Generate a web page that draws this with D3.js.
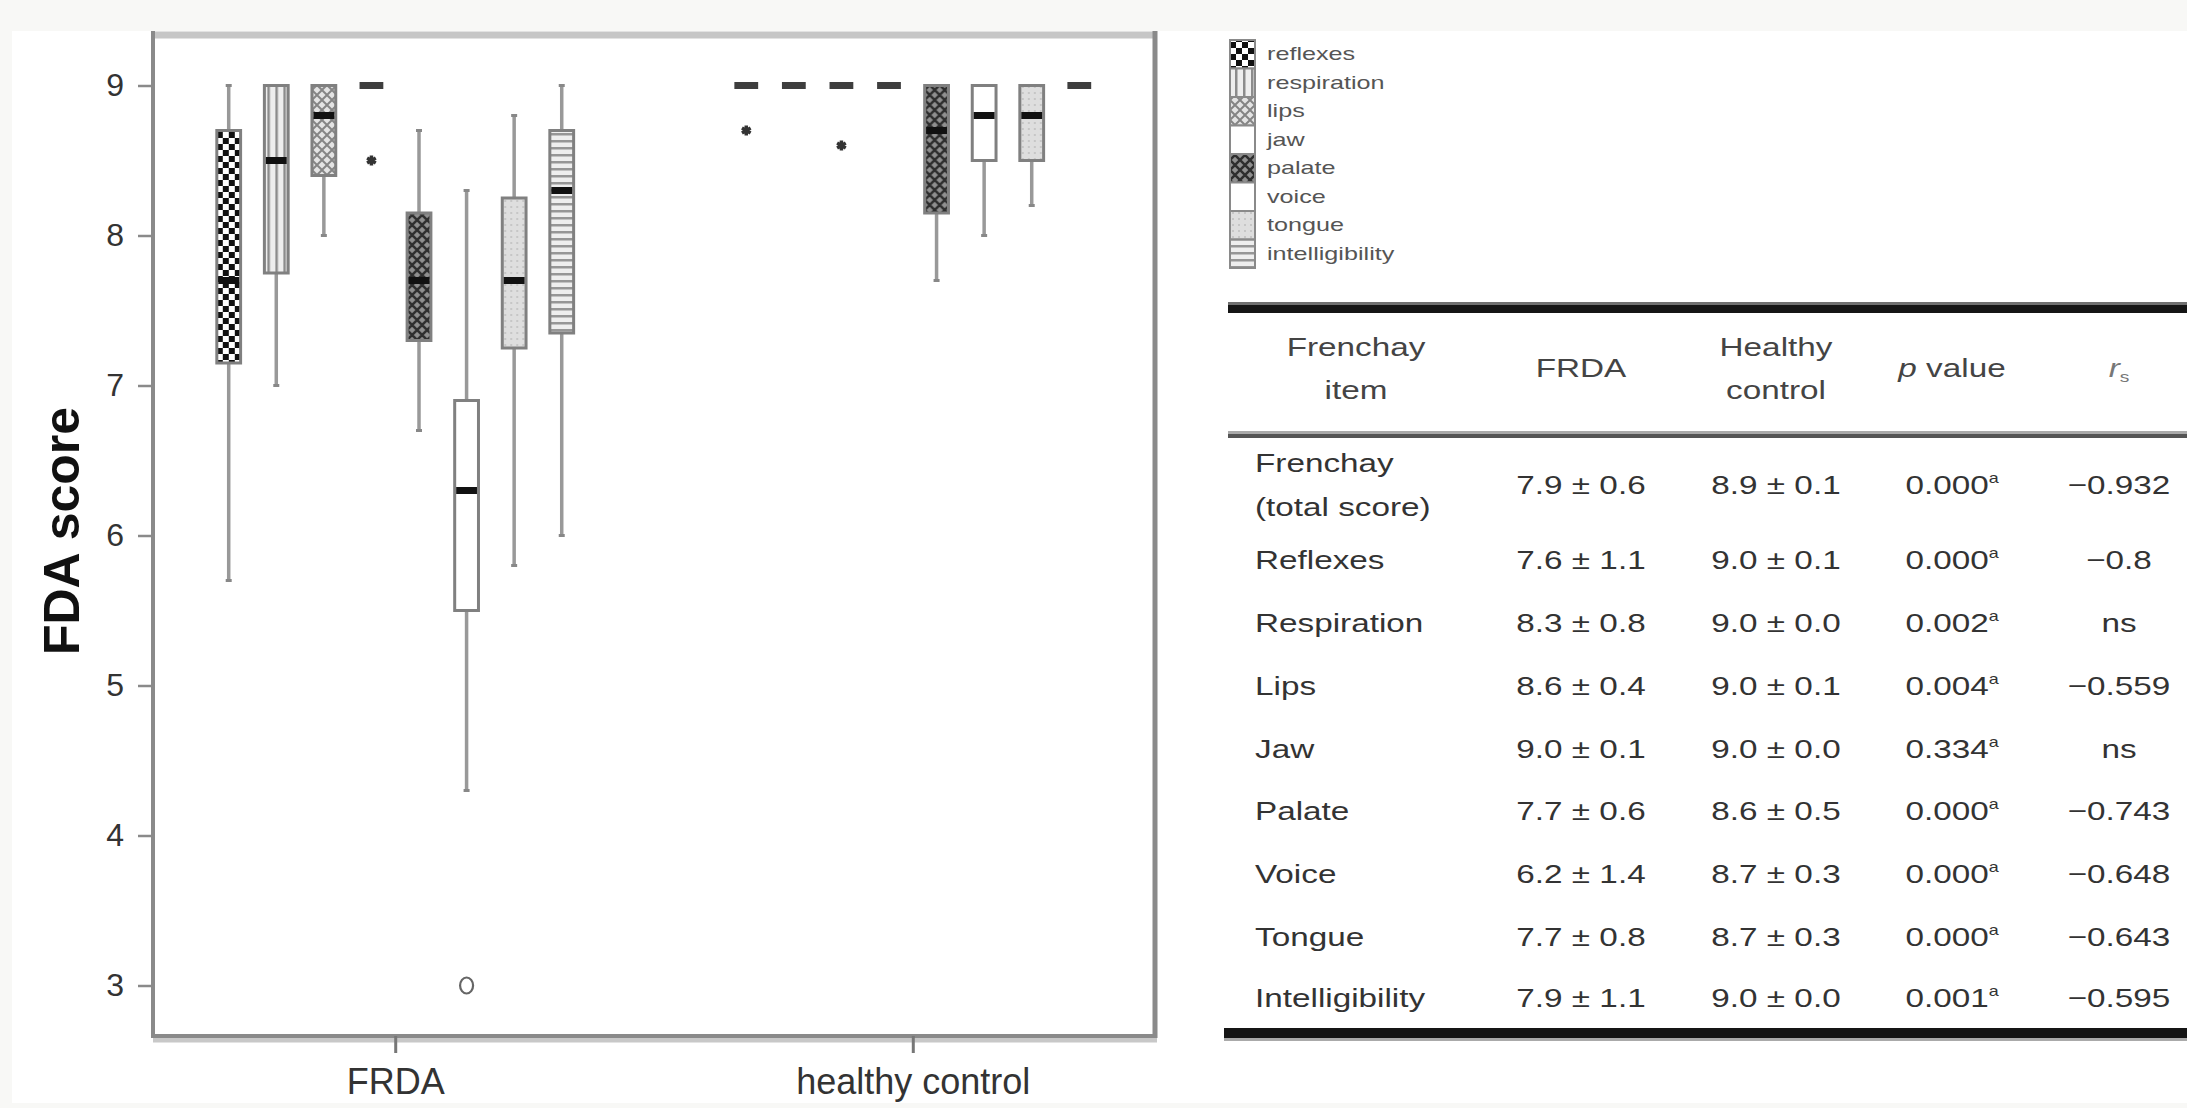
<!DOCTYPE html>
<html><head><meta charset="utf-8">
<script src="https://cdn.jsdelivr.net/npm/d3@7"></script>
<style>body{margin:0;background:#fff;} svg{display:block;}</style>
</head><body>
<svg id="c" width="2187" height="1108"></svg>
<script>
// ---------------- DATA ----------------
const groups = ["FRDA", "healthy control"];
const items = ["reflexes","respiration","lips","jaw","palate","voice","tongue","intelligibility"];
// [lower whisker, Q1, median, Q3, upper whisker]
const frdaStats = [
  [5.7, 7.15, 7.7, 8.7, 9.0],
  [7.0, 7.75, 8.5, 9.0, 9.0],
  [8.0, 8.4, 8.8, 9.0, 9.0],
  [9.0, 9.0, 9.0, 9.0, 9.0],
  [6.7, 7.3, 7.7, 8.15, 8.7],
  [4.3, 5.5, 6.3, 6.9, 8.3],
  [5.8, 7.25, 7.7, 8.25, 8.8],
  [6.0, 7.35, 8.3, 8.7, 9.0]
];
const controlStats = [
  [9.0, 9.0, 9.0, 9.0, 9.0],
  [9.0, 9.0, 9.0, 9.0, 9.0],
  [9.0, 9.0, 9.0, 9.0, 9.0],
  [9.0, 9.0, 9.0, 9.0, 9.0],
  [7.7, 8.15, 8.7, 9.0, 9.0],
  [8.0, 8.5, 8.8, 9.0, 9.0],
  [8.2, 8.5, 8.8, 9.0, 9.0],
  [9.0, 9.0, 9.0, 9.0, 9.0]
];
const outlierGroups = ["FRDA", "FRDA", "healthy control", "healthy control"];
const outlierItems  = ["jaw", "voice", "reflexes", "lips"];
const outlierValues = [8.5, 3.0, 8.7, 8.6];
const outlierTypes  = ["star", "circle", "star", "star"];
const yTicks = [3, 4, 5, 6, 7, 8, 9];
const yLabel = "FDA score";

// table
const headItem = ["Frenchay", "item"];
const headFrda = "FRDA";
const headControl = ["Healthy", "control"];
const tableItems = [["Frenchay", "(total score)"], ["Reflexes"], ["Respiration"], ["Lips"], ["Jaw"], ["Palate"], ["Voice"], ["Tongue"], ["Intelligibility"]];
const frdaMeanSD = ["7.9 ± 0.6", "7.6 ± 1.1", "8.3 ± 0.8", "8.6 ± 0.4", "9.0 ± 0.1", "7.7 ± 0.6", "6.2 ± 1.4", "7.7 ± 0.8", "7.9 ± 1.1"];
const controlMeanSD = ["8.9 ± 0.1", "9.0 ± 0.1", "9.0 ± 0.0", "9.0 ± 0.1", "9.0 ± 0.0", "8.6 ± 0.5", "8.7 ± 0.3", "8.7 ± 0.3", "9.0 ± 0.0"];
const pValues = ["0.000", "0.000", "0.002", "0.004", "0.334", "0.000", "0.000", "0.000", "0.001"];
const rsValues = ["−0.932", "−0.8", "ns", "−0.559", "ns", "−0.743", "−0.648", "−0.643", "−0.595"];

// ---------------- DRAW ----------------
const svg = d3.select("#c");
svg.append("rect").attr("width", 2187).attr("height", 1108).attr("fill", "#f8f8f6");
svg.append("rect").attr("x", 12).attr("y", 31).attr("width", 2175).attr("height", 1072).attr("fill", "#fff");

// patterns
const defs = svg.append("defs");
function pat(id, w, h, build) {
  const p = defs.append("pattern").attr("id", id).attr("patternUnits", "userSpaceOnUse")
    .attr("width", w).attr("height", h);
  build(p);
}
pat("p-reflexes", 12, 12, p => {
  p.append("rect").attr("width", 12).attr("height", 12).attr("fill", "#fff");
  p.append("rect").attr("width", 6).attr("height", 6).attr("fill", "#111");
  p.append("rect").attr("x", 6).attr("y", 6).attr("width", 6).attr("height", 6).attr("fill", "#111");
});
pat("p-respiration", 8, 8, p => {
  p.append("rect").attr("width", 8).attr("height", 8).attr("fill", "#eeeeee");
  p.append("rect").attr("x", 3).attr("width", 2.5).attr("height", 8).attr("fill", "#8c8c8c");
});
pat("p-lips", 10, 10, p => {
  p.append("rect").attr("width", 10).attr("height", 10).attr("fill", "#e4e4e4");
  p.append("path").attr("d", "M0,0L10,10M10,0L0,10").attr("stroke", "#858585").attr("stroke-width", 2);
});
pat("p-palate", 10, 10, p => {
  p.append("rect").attr("width", 10).attr("height", 10).attr("fill", "#8f8f8f");
  p.append("path").attr("d", "M0,0L10,10M10,0L0,10").attr("stroke", "#2e2e2e").attr("stroke-width", 2.5);
});
pat("p-tongue", 6, 6, p => {
  p.append("rect").attr("width", 6).attr("height", 6).attr("fill", "#dedede");
  p.append("rect").attr("x", 2).attr("y", 2).attr("width", 2).attr("height", 2).attr("fill", "#c6c6c6");
});
pat("p-intelligibility", 8, 7, p => {
  p.append("rect").attr("width", 8).attr("height", 7).attr("fill", "#eeeeee");
  p.append("rect").attr("width", 8).attr("height", 2.5).attr("fill", "#969696");
});
const fills = {
  reflexes: "url(#p-reflexes)", respiration: "url(#p-respiration)", lips: "url(#p-lips)",
  jaw: "#ffffff", palate: "url(#p-palate)", voice: "#ffffff", tongue: "url(#p-tongue)",
  intelligibility: "url(#p-intelligibility)"
};

// scales
const plotL = 153, plotR = 1155, plotT = 33, plotB = 1036;
const xOuter = d3.scalePoint().domain(groups).range([plotL, plotR]).padding(0.468);
const xInner = d3.scaleBand().domain(items).range([-190.3, 190.3]).paddingInner(0.5).paddingOuter(0.25);
const y = d3.scaleLinear().domain([3, 9]).range([985.5, 85.5]);

// frame
const frame = svg.append("g");
frame.append("line").attr("x1", plotL).attr("x2", plotR + 2).attr("y1", plotT + 2).attr("y2", plotT + 2)
  .attr("stroke", "#c6c6c6").attr("stroke-width", 7);
frame.append("line").attr("x1", plotL).attr("x2", plotL).attr("y1", plotT - 2).attr("y2", plotB + 2)
  .attr("stroke", "#8a8a8a").attr("stroke-width", 4);
frame.append("line").attr("x1", plotR).attr("x2", plotR).attr("y1", plotT - 2).attr("y2", plotB + 2)
  .attr("stroke", "#8a8a8a").attr("stroke-width", 5);
frame.append("line").attr("x1", plotL).attr("x2", plotR + 2).attr("y1", plotB + 4).attr("y2", plotB + 4)
  .attr("stroke", "#c8c8c8").attr("stroke-width", 5);
frame.append("line").attr("x1", plotL).attr("x2", plotR + 2).attr("y1", plotB).attr("y2", plotB)
  .attr("stroke", "#8a8a8a").attr("stroke-width", 4);

// y axis
const yAxis = svg.append("g").attr("transform", `translate(${plotL},0)`)
  .call(d3.axisLeft(y).tickValues(yTicks).tickFormat(d3.format("d")).tickSize(15).tickPadding(14));
yAxis.select(".domain").remove();
yAxis.selectAll(".tick line").attr("stroke", "#8a8a8a").attr("stroke-width", 2.5);
yAxis.selectAll(".tick text").attr("font-family", "Liberation Sans, Arial, sans-serif")
  .attr("font-size", 32).attr("fill", "#333");

// x axis
const xAxis = svg.append("g").attr("transform", `translate(0,${plotB})`)
  .call(d3.axisBottom(xOuter).tickSize(17).tickPadding(15));
xAxis.select(".domain").remove();
xAxis.selectAll(".tick line").attr("stroke", "#777").attr("stroke-width", 3);
xAxis.selectAll(".tick text").attr("font-family", "Liberation Sans, Arial, sans-serif")
  .attr("font-size", 36).attr("fill", "#333");

// y label
svg.append("text").attr("transform", "rotate(-90)").attr("x", -531).attr("y", 79)
  .attr("text-anchor", "middle").attr("font-family", "Liberation Sans, Arial, sans-serif")
  .attr("font-weight", "bold").attr("font-size", 50).attr("fill", "#111").text(yLabel);

// boxes
const boxData = [];
groups.forEach((g, gi) => {
  const stats = gi === 0 ? frdaStats : controlStats;
  items.forEach((it, ii) => {
    const s = stats[ii];
    boxData.push({ group: g, item: it, lw: s[0], q1: s[1], med: s[2], q3: s[3], uw: s[4] });
  });
});
const bw = xInner.bandwidth();
const boxes = svg.append("g").selectAll("g").data(boxData).join("g")
  .attr("transform", d => `translate(${xOuter(d.group) + xInner(d.item)},0)`);
boxes.filter(d => d.uw > d.lw).append("line")
  .attr("x1", bw / 2).attr("x2", bw / 2).attr("y1", d => y(d.uw)).attr("y2", d => y(d.lw))
  .attr("stroke", "#999").attr("stroke-width", 3.5);
boxes.filter(d => d.uw > d.lw).append("line")
  .attr("x1", bw / 2 - 3).attr("x2", bw / 2 + 3).attr("y1", d => y(d.lw)).attr("y2", d => y(d.lw))
  .attr("stroke", "#888").attr("stroke-width", 3);
boxes.filter(d => d.uw > d.q3).append("line")
  .attr("x1", bw / 2 - 3).attr("x2", bw / 2 + 3).attr("y1", d => y(d.uw)).attr("y2", d => y(d.uw))
  .attr("stroke", "#888").attr("stroke-width", 3);
boxes.filter(d => d.q3 > d.q1).append("rect")
  .attr("x", 0).attr("width", bw).attr("y", d => y(d.q3)).attr("height", d => y(d.q1) - y(d.q3))
  .attr("fill", d => fills[d.item]).attr("stroke", "#808080").attr("stroke-width", 3);
boxes.append("rect")
  .attr("x", d => d.q3 > d.q1 ? 1.5 : 0).attr("width", d => d.q3 > d.q1 ? bw - 3 : bw)
  .attr("y", d => y(d.med) - 3.5).attr("height", 7)
  .attr("fill", d => d.q3 > d.q1 ? "#111" : "#3e3e3e");

// outliers
const outData = outlierValues.map((v, i) => ({ group: outlierGroups[i], item: outlierItems[i], value: v, type: outlierTypes[i] }));
const outG = svg.append("g");
outG.selectAll("path.star").data(outData.filter(d => d.type === "star")).join("path").attr("class", "star")
  .attr("transform", d => `translate(${xOuter(d.group) + xInner(d.item) + bw / 2},${y(d.value)})`)
  .attr("d", d3.symbol(d3.symbolAsterisk || d3.symbolCross, 70))
  .attr("fill", "none").attr("stroke", "#333").attr("stroke-width", 3.5);
outG.selectAll("ellipse").data(outData.filter(d => d.type === "circle")).join("ellipse")
  .attr("cx", d => xOuter(d.group) + xInner(d.item) + bw / 2).attr("cy", d => y(d.value))
  .attr("rx", 6.5).attr("ry", 8).attr("fill", "none").attr("stroke", "#666").attr("stroke-width", 2.2);

// legend
const lg = svg.append("g");
const lgY0 = 40, lgH = 28.5;
lg.selectAll("rect").data(items).join("rect")
  .attr("x", 1230).attr("y", (d, i) => lgY0 + i * lgH).attr("width", 25).attr("height", lgH)
  .attr("fill", d => fills[d]).attr("stroke", "#8a8a8a").attr("stroke-width", 2);
lg.selectAll("text").data(items).join("text")
  .attr("transform", (d, i) => `translate(1267,${lgY0 + i * lgH + lgH / 2 + 6}) scale(1.4,1)`)
  .attr("font-family", "Liberation Sans, Arial, sans-serif").attr("font-size", 18).attr("fill", "#555")
  .text(d => d);

// table
const tg = svg.append("g").attr("font-family", "Liberation Sans, Arial, sans-serif");
const SX = 1.28, FS = 26;
function tt(x, yy, str, anchor, color) {
  return tg.append("text").attr("transform", `translate(${x},${yy}) scale(${SX},1)`)
    .attr("text-anchor", anchor).attr("font-size", FS).attr("fill", color || "#333").text(str);
}
// rules
tg.append("rect").attr("x", 1228).attr("y", 303).attr("width", 959).attr("height", 10).attr("fill", "#151515");
tg.append("rect").attr("x", 1228).attr("y", 302).attr("width", 959).attr("height", 3).attr("fill", "#707070");
tg.append("rect").attr("x", 1228).attr("y", 431).attr("width", 959).attr("height", 3).attr("fill", "#aaaaaa");
tg.append("rect").attr("x", 1228).attr("y", 434).attr("width", 959).attr("height", 4).attr("fill", "#555");
tg.append("rect").attr("x", 1224).attr("y", 1028).attr("width", 963).attr("height", 10).attr("fill", "#151515");
tg.append("rect").attr("x", 1224).attr("y", 1038).attr("width", 963).attr("height", 3).attr("fill", "#aaaaaa");

const colItem = 1255, colFrda = 1581, colCtrl = 1776, colP = 1952, colRs = 2119;
// header
tt(1356, 356, headItem[0], "middle", "#444");
tt(1356, 399, headItem[1], "middle", "#444");
tt(colFrda, 377, headFrda, "middle", "#444");
tt(colCtrl, 356, headControl[0], "middle", "#444");
tt(colCtrl, 399, headControl[1], "middle", "#444");
const ph = tt(colP, 377, "", "middle", "#444");
ph.append("tspan").attr("font-style", "italic").text("p");
ph.append("tspan").text(" value");
const rh = tt(colRs, 377, "", "middle", "#777");
rh.append("tspan").attr("font-style", "italic").text("r");
rh.append("tspan").attr("font-size", 15).attr("dy", 5).text("s");

// body rows
const rowY = [485, 560, 623, 686, 749, 811, 874, 937, 998];
tableItems.forEach((lines, i) => {
  if (lines.length === 2) {
    tt(colItem, rowY[i] - 22 + 9, lines[0], "start");
    tt(colItem, rowY[i] + 22 + 9, lines[1], "start");
  } else {
    tt(colItem, rowY[i] + 9, lines[0], "start");
  }
  tt(colFrda, rowY[i] + 9, frdaMeanSD[i], "middle");
  tt(colCtrl, rowY[i] + 9, controlMeanSD[i], "middle");
  const p = tt(colP, rowY[i] + 9, "", "middle");
  p.append("tspan").text(pValues[i]);
  p.append("tspan").attr("font-size", 14).attr("dy", -11).text("a");
  tt(colRs, rowY[i] + 9, rsValues[i], "middle");
});
</script>
</body></html>
